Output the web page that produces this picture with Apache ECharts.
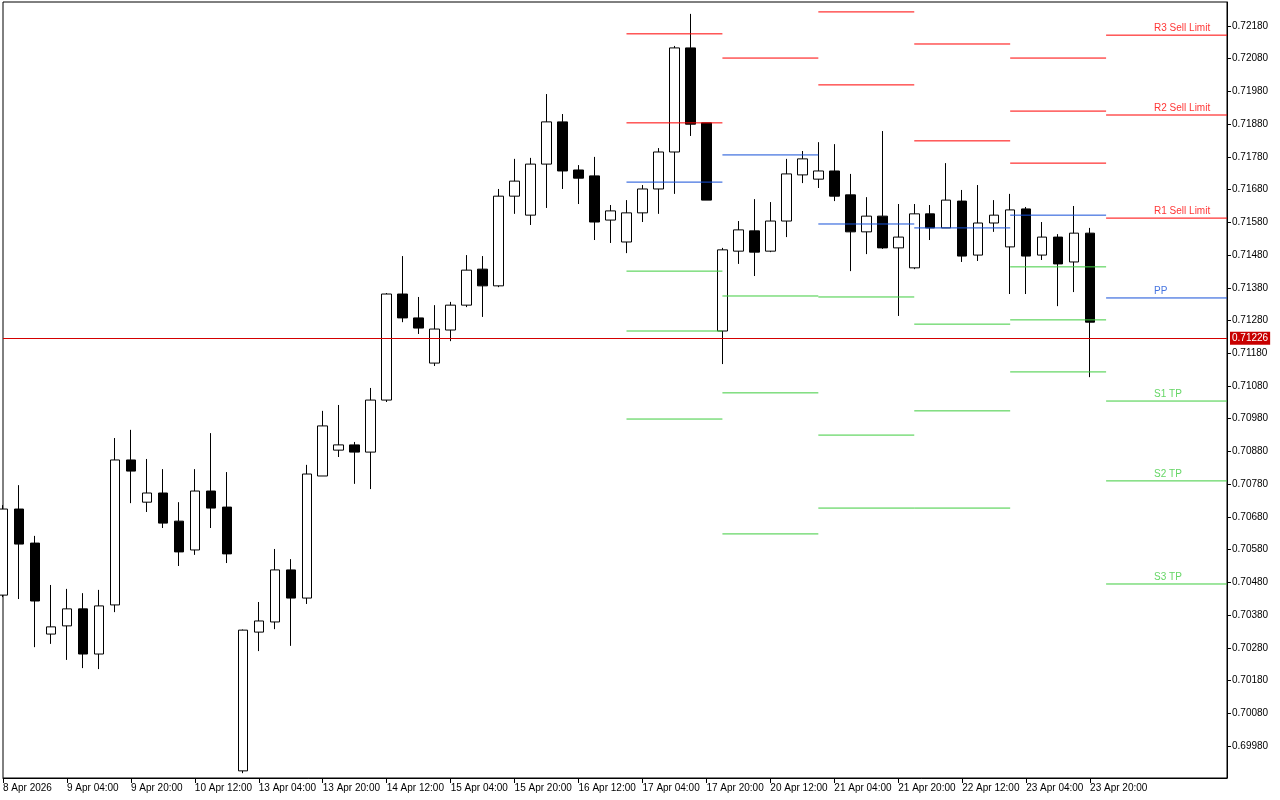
<!DOCTYPE html>
<html>
<head>
<meta charset="utf-8">
<title>H4 pivots</title>
<script src="https://cdn.jsdelivr.net/npm/echarts@6.0.0/dist/echarts.min.js"></script>
<style>
  html, body { margin: 0; padding: 0; background: #fff; }
  #chart { width: 1280px; height: 800px; }
</style>
</head>
<body>
<div id="chart"></div>
<script>
// H4 bars from 8 Apr 12:00 to 23 Apr 20:00, one entry per bar
const timeLabels = ['8 Apr 2026', '9 Apr 04:00', '9 Apr 20:00', '10 Apr 12:00', '13 Apr 04:00', '13 Apr 20:00',
  '14 Apr 12:00', '15 Apr 04:00', '15 Apr 20:00', '16 Apr 12:00', '17 Apr 04:00', '17 Apr 20:00',
  '20 Apr 12:00', '21 Apr 04:00', '21 Apr 20:00', '22 Apr 12:00', '23 Apr 04:00', '23 Apr 20:00']

const opens = [0.70441, 0.70704, 0.70600, 0.70322, 0.70347, 0.70399, 0.70261, 0.70411, 0.70854, 0.70725,
  0.70753, 0.70667, 0.70579, 0.70759, 0.70710, 0.69904, 0.70328, 0.70359, 0.70518, 0.70432,
  0.70805, 0.70884, 0.70900, 0.70878, 0.71037, 0.71361, 0.71288, 0.71150, 0.71251, 0.71327,
  0.71437, 0.71386, 0.71660, 0.71602, 0.71758, 0.71887, 0.71740, 0.71722, 0.71587, 0.71520,
  0.71609, 0.71682, 0.71795, 0.72113, 0.71884, 0.71248, 0.71492, 0.71554, 0.71492, 0.71584,
  0.71725, 0.71712, 0.71737, 0.71664, 0.71551, 0.71599, 0.71502, 0.71441, 0.71606, 0.71563,
  0.71645, 0.71480, 0.71578, 0.71505, 0.71621, 0.71480, 0.71535, 0.71459, 0.71547]
const closes = [0.70704, 0.70597, 0.70423, 0.70344, 0.70399, 0.70261, 0.70408, 0.70854, 0.70820, 0.70753,
  0.70661, 0.70573, 0.70759, 0.70707, 0.70567, 0.70334, 0.70362, 0.70518, 0.70432, 0.70811,
  0.70958, 0.70900, 0.70878, 0.71037, 0.71361, 0.71288, 0.71257, 0.71254, 0.71327, 0.71434,
  0.71386, 0.71660, 0.71706, 0.71758, 0.71887, 0.71737, 0.71715, 0.71581, 0.71615, 0.71609,
  0.71682, 0.71795, 0.72113, 0.71880, 0.71648, 0.71496, 0.71557, 0.71489, 0.71584, 0.71728,
  0.71774, 0.71737, 0.71660, 0.71551, 0.71599, 0.71502, 0.71535, 0.71606, 0.71563, 0.71648,
  0.71477, 0.71578, 0.71602, 0.71618, 0.71477, 0.71535, 0.71453, 0.71547, 0.71275]
const lows = [0.70435, 0.70429, 0.70282, 0.70292, 0.70243, 0.70218, 0.70215, 0.70389, 0.70722, 0.70695,
  0.70646, 0.70530, 0.70564, 0.70646, 0.70539, 0.69897, 0.70270, 0.70337, 0.70286, 0.70414,
  0.70805, 0.70863, 0.70781, 0.70765, 0.71031, 0.71275, 0.71239, 0.71141, 0.71217, 0.71321,
  0.71291, 0.71382, 0.71606, 0.71572, 0.71624, 0.71682, 0.71636, 0.71526, 0.71517, 0.71486,
  0.71581, 0.71606, 0.71667, 0.71844, 0.71648, 0.71147, 0.71453, 0.71416, 0.71489, 0.71535,
  0.71700, 0.71685, 0.71645, 0.71431, 0.71483, 0.71499, 0.71294, 0.71437, 0.71526, 0.71563,
  0.71459, 0.71462, 0.71551, 0.71361, 0.71361, 0.71465, 0.71324, 0.71367, 0.71107]
const highs = [0.70716, 0.70777, 0.70622, 0.70472, 0.70460, 0.70447, 0.70457, 0.70921, 0.70946, 0.70857,
  0.70826, 0.70725, 0.70826, 0.70936, 0.70817, 0.70336, 0.70420, 0.70582, 0.70551, 0.70839,
  0.71004, 0.71022, 0.70909, 0.71074, 0.71364, 0.71477, 0.71352, 0.71327, 0.71337, 0.71480,
  0.71477, 0.71682, 0.71774, 0.71777, 0.71972, 0.71911, 0.71755, 0.71780, 0.71633, 0.71648,
  0.71694, 0.71807, 0.72119, 0.72217, 0.71884, 0.71502, 0.71584, 0.71651, 0.71642, 0.71774,
  0.71798, 0.71825, 0.71819, 0.71728, 0.71657, 0.71859, 0.71636, 0.71636, 0.71633, 0.71761,
  0.71679, 0.71694, 0.71648, 0.71667, 0.71627, 0.71581, 0.71544, 0.71630, 0.71563]

// daily pivot levels, one value per day (17 Apr .. 24 Apr); null = off the chart
const r3 = [null, null, null, null, 0.72082, 0.72152]
const r2 = [0.72156, null, 0.72223, 0.72125, 0.71920, 0.71908]
const r1 = [0.71884, 0.72082, 0.72000, 0.71829, 0.71761, 0.71593]
const pp = [0.71703, 0.71786, 0.71575, 0.71563, 0.71602, 0.71349]
const s1 = [0.71431, 0.71355, 0.71352, 0.71269, 0.71444, 0.71034]
const s2 = [0.71248, 0.71059, 0.70930, 0.71004, 0.71282, 0.70790]
const s3 = [0.70979, 0.70628, 0.70707, 0.70707, 0.71123, 0.70475]
const levelNames = ['R3 Sell Limit', 'R2 Sell Limit', 'R1 Sell Limit', 'PP', 'S1 TP', 'S2 TP', 'S3 TP']

const priceTicks = [0.69980, 0.70080, 0.70180, 0.70280, 0.70380, 0.70480, 0.70580, 0.70680, 0.70780, 0.70880,
  0.70980, 0.71080, 0.71180, 0.71280, 0.71380, 0.71480, 0.71580, 0.71680, 0.71780, 0.71880,
  0.71980, 0.72080, 0.72180]
const lastPrice = 0.71226

// layout
const X_MAX = 76.5625
const Y_MIN = 0.698822
const Y_MAX = 0.722533
const DAY_START = [39, 45, 51, 57, 63, 69] // first bar of each pivot day
const LABEL_BAR = 72
const FONT = 'Liberation Sans'
const RED = '#ff0000'
const BLUE = '#1550d8'
const GREEN = '#3fcc3f'

const levels = [r3, r2, r1, pp, s1, s2, s3]
const levelColors = [RED, RED, RED, BLUE, GREEN, GREEN, GREEN]
const labelBars = timeLabels.map((t, i) => i * 4)

const chart = echarts.init(document.getElementById('chart'))

const series = [{
  type: 'candlestick',
  data: opens.map((o, i) => [i, o, closes[i], lows[i], highs[i]]),
  barWidth: 10,
  itemStyle: {
    color: '#ffffff',
    color0: '#000000',
    borderColor: '#000000',
    borderColor0: '#000000',
    borderColorDoji: '#000000',
    borderWidth: 1
  },
  markLine: {
    silent: true,
    symbol: ['none', 'none'],
    animation: false,
    precision: 5,
    lineStyle: { color: '#d40000', type: 'solid', width: 1 },
    label: {
      show: true,
      position: 'end',
      formatter: lastPrice.toFixed(5),
      color: '#ffffff',
      backgroundColor: '#c80000',
      padding: [2, 2, 1, 2],
      fontFamily: FONT,
      fontSize: 10,
      distance: 3
    },
    data: [{ yAxis: lastPrice }]
  }
}]

levels.forEach((vals, li) => {
  vals.forEach((v, d) => {
    if (v == null) return
    const end = d + 1 < DAY_START.length ? DAY_START[d + 1] : X_MAX
    series.push({
      type: 'line',
      data: [[DAY_START[d], v], [end, v]],
      showSymbol: false,
      symbol: 'none',
      silent: true,
      animation: false,
      lineStyle: { color: levelColors[li], width: 1 }
    })
  })
})

// level names for the current day
series.push({
  type: 'scatter',
  symbolSize: 0,
  silent: true,
  animation: false,
  data: levels.map((vals, li) => ({
    value: [LABEL_BAR, vals[vals.length - 1]],
    label: { color: levelColors[li] }
  })),
  label: {
    show: true,
    position: 'right',
    distance: 0,
    offset: [0, -7],
    fontFamily: FONT,
    fontSize: 10,
    formatter: p => levelNames[p.dataIndex]
  }
})

chart.setOption({
  backgroundColor: '#ffffff',
  animation: false,
  grid: {
    left: 2,
    top: 2,
    right: 53,
    bottom: 22,
    show: true,
    borderColor: '#000000',
    borderWidth: 1,
    backgroundColor: '#ffffff'
  },
  xAxis: {
    type: 'value',
    min: 0,
    max: X_MAX,
    axisLine: { show: true, onZero: false, lineStyle: { color: '#000000', width: 1 } },
    axisTick: { show: true, length: 5, customValues: labelBars, lineStyle: { color: '#000000' } },
    axisLabel: {
      customValues: labelBars,
      formatter: v => timeLabels[Math.round(v / 4)],
      align: 'left',
      margin: 5,
      color: '#000000',
      fontFamily: FONT,
      fontSize: 10
    },
    splitLine: { show: false }
  },
  yAxis: {
    type: 'value',
    position: 'right',
    min: Y_MIN,
    max: Y_MAX,
    axisLine: { show: true, onZero: false, lineStyle: { color: '#000000', width: 1 } },
    axisTick: { show: true, length: 4, customValues: priceTicks, lineStyle: { color: '#000000' } },
    axisLabel: {
      customValues: priceTicks,
      formatter: v => v.toFixed(5),
      margin: 5,
      color: '#000000',
      fontFamily: FONT,
      fontSize: 10
    },
    splitLine: { show: false }
  },
  series: series
})
</script>
</body>
</html>
